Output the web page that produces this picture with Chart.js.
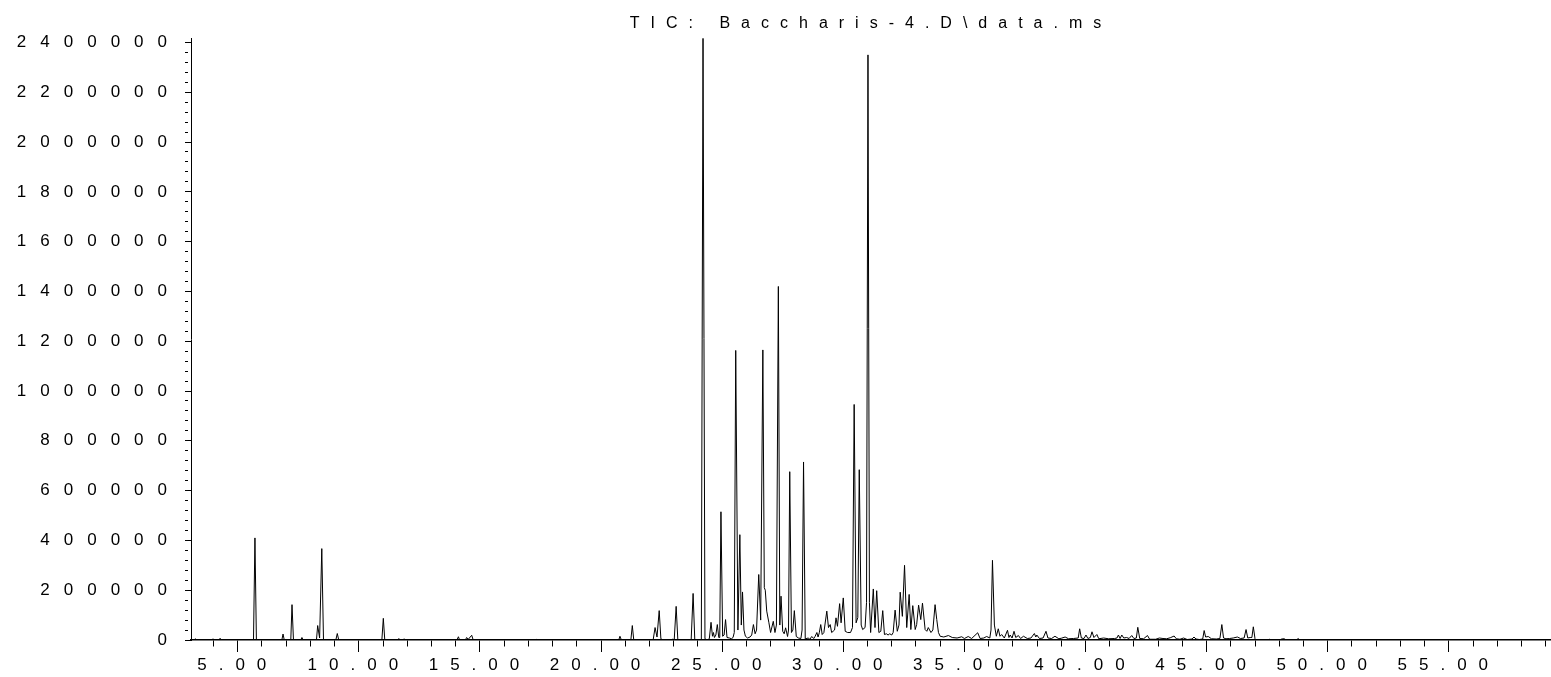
<!DOCTYPE html>
<html>
<head>
<meta charset="utf-8">
<script src="https://cdn.jsdelivr.net/npm/chart.js@4.4.1/dist/chart.umd.min.js"></script>
<style>
html,body{margin:0;padding:0;background:#fff;overflow:hidden}
canvas{display:block}
</style>
</head>
<body>
<canvas id="chart" width="1551" height="677"></canvas>
<script>
const chartTitle = 'TIC: Baccharis-4.D\\data.ms';

// Retention time (min) of the trace vertices
const retentionTime = [
  3.07,3.20,3.24,3.30,3.95,3.98,4.02,4.24,4.27,4.32,4.56,4.60,4.64,
  5.65,5.71,5.77,6.82,6.87,6.92,7.19,7.24,7.30,7.60,7.65,7.70,
  8.25,8.30,8.38,8.47,8.54,9.05,9.11,9.17,10.95,11.01,11.07,
  11.60,11.65,11.70,11.82,11.87,11.92,14.05,14.11,14.16,14.40,14.45,14.52,14.66,14.72,
  17.28,17.32,17.36,20.73,20.78,20.84,21.23,21.29,21.35,
  22.15,22.23,22.31,22.40,22.47,22.55,22.90,22.97,23.02,23.10,23.17,23.72,23.80,23.87,24.14,24.21,24.29,24.38,
  24.47,24.54,24.60,24.64,24.68,24.74,24.80,24.86,24.90,24.95,25.02,25.08,25.14,25.20,25.30,25.38,25.45,25.50,25.56,25.65,25.73,25.79,25.84,25.90,25.96,
  26.05,26.15,26.22,26.29,26.36,26.42,26.51,26.59,26.68,26.74,26.78,26.84,26.93,27.00,27.11,27.18,27.24,27.32,27.38,27.43,27.50,
  27.56,27.62,27.70,27.74,27.79,27.86,27.92,27.98,28.06,28.15,28.25,28.30,28.36,28.43,28.55,28.62,28.70,28.78,28.84,28.91,28.96,
  29.01,29.07,29.13,29.20,29.32,29.39,29.46,29.52,29.58,29.64,29.70,29.76,29.85,29.91,30.00,30.08,30.18,30.30,30.38,
  30.45,30.53,30.60,30.66,30.74,30.80,30.90,30.96,31.02,31.08,31.13,31.24,31.31,31.38,31.47,31.55,31.63,31.70,31.78,31.85,31.92,32.00,32.06,
  32.14,32.23,32.30,32.35,32.44,32.53,32.62,32.72,32.79,32.87,32.97,33.03,33.11,33.20,33.27,33.38,33.45,33.51,33.62,33.70,33.79,33.86,33.93,34.00,
  34.15,34.34,34.50,34.70,34.89,35.00,35.16,35.30,35.55,35.65,35.80,35.92,36.05,36.10,36.16,36.24,36.32,36.40,36.47,36.54,36.65,36.78,36.84,36.89,36.97,
  37.05,37.12,37.23,37.32,37.44,37.60,37.75,37.89,37.95,37.99,38.10,38.25,38.37,38.45,38.60,38.74,38.90,39.00,39.16,39.30,39.50,39.70,39.76,39.83,39.94,40.02,40.10,40.20,40.27,40.35,40.47,40.55,
  40.75,40.95,41.20,41.30,41.36,41.43,41.50,41.58,41.70,41.80,41.91,42.00,42.10,42.16,42.24,42.40,42.56,42.65,42.90,43.05,43.20,43.35,43.50,43.66,43.75,43.90,
  44.05,44.20,44.40,44.48,44.56,44.70,44.84,44.90,44.96,45.07,45.20,45.40,45.55,45.63,45.70,45.80,45.95,46.10,46.27,46.40,46.55,46.63,46.70,46.80,46.87,46.93,47.00,47.05,
  47.50,47.59,47.65,48.00,48.10,48.20,48.30,48.70,48.79,48.85,50.15,50.22,50.28,59.22
];

// Abundance (TIC counts) at each vertex
const abundance = [
  0,0,5000,0,0,5000,0,0,7000,0,0,4000,0,
  0,410000,0,0,24000,0,0,142000,0,0,10000,0,
  0,58000,8000,367000,0,0,26000,0,0,87000,0,
  0,6000,0,0,5000,0,0,13000,0,0,10000,3000,19000,0,
  0,3000,0,0,15000,0,0,58000,0,
  0,50000,12000,118000,5000,0,0,4000,0,135000,0,0,187000,0,0,2417000,5000,0,
  5000,71000,15000,30000,10000,20000,62000,10000,10000,515000,15000,20000,82000,10000,8000,5000,10000,30000,1163000,40000,423000,60000,193000,40000,15000,
  8000,12000,20000,62000,25000,40000,263000,80000,1165000,210000,200000,116000,69000,30000,75000,30000,60000,1420000,60000,176000,35000,
  25000,49000,14000,40000,676000,30000,40000,118000,14000,8000,6000,40000,715000,4000,8000,3000,14000,6000,15000,30000,12000,
  29000,62000,22000,30000,116000,50000,62000,30000,35000,40000,89000,55000,146000,69000,169000,35000,30000,30000,50000,
  946000,69000,90000,684000,60000,42000,50000,150000,2350000,150000,30000,205000,50000,198000,30000,35000,118000,22000,25000,20000,25000,20000,30000,
  120000,35000,60000,192000,95000,300000,50000,183000,42000,138000,42000,62000,140000,82000,148000,42000,35000,50000,30000,40000,142000,82000,30000,15000,
  12000,18000,10000,8000,13000,6000,14000,6000,29000,6000,8000,14000,8000,40000,320000,60000,15000,45000,15000,22000,8000,39000,10000,20000,8000,
  35000,10000,18000,6000,15000,6000,8000,26000,12000,20000,6000,8000,35000,8000,6000,15000,5000,7000,12000,5000,6000,8000,45000,8000,6000,20000,6000,10000,33000,10000,22000,5000,
  8000,5000,6000,8000,20000,6000,20000,8000,10000,6000,18000,6000,8000,51000,6000,5000,18000,3000,3000,8000,6000,5000,9000,16000,5000,3000,
  8000,2000,4000,12000,4000,2000,4000,38000,12000,14000,5000,4000,6000,62000,8000,5000,6000,8000,12000,6000,8000,42000,8000,10000,10000,53000,5000,0,
  0,3000,0,0,4000,5000,0,0,6000,0,0,2000,0,0
];

// Axis ranges and tick steps
const xRange = [3.07, 59.22];
const yRange = [0, 2417000];
const xTickStep = 1;       // minor tick every minute
const xLabelStep = 5;      // labelled tick every 5 minutes
const yTickStep = 40000;   // minor tick
const yLabelStep = 200000; // labelled tick

const FONT = "'Liberation Sans', Arial, sans-serif";
const LETTER_SPACING = { x: '12px', y: '14px', title: '11px' };

const isMultiple = (v, step) => Math.abs(v / step - Math.round(v / step)) < 1e-6;

// Tick values every `step` inside [min, max]
function stepTicks(min, max, step) {
  const out = [];
  for (let k = Math.ceil(min / step - 1e-9); k * step <= max + 1e-9; k++) out.push({ value: +(k * step).toFixed(6) });
  return out;
}

class SpacedLinearScale extends Chart.LinearScale {
  drawLabels(area) {
    const ctx = this.ctx;
    ctx.save();
    if ('letterSpacing' in ctx) ctx.letterSpacing = LETTER_SPACING[this.id] || '0px';
    super.drawLabels(area);
    ctx.restore();
  }
}
SpacedLinearScale.id = 'spacedLinear';
Chart.register(SpacedLinearScale);

const titleSpacing = {
  id: 'titleSpacing',
  beforeDraw(chart) {
    if ('letterSpacing' in chart.ctx) chart.ctx.letterSpacing = LETTER_SPACING.title;
  }
};

const points = retentionTime.map((t, i) => ({ x: t, y: abundance[i] }));

new Chart(document.getElementById('chart'), {
  type: 'line',
  data: {
    datasets: [{
      data: points,
      borderColor: '#000',
      borderWidth: 1,
      pointRadius: 0,
      tension: 0,
      fill: false
    }]
  },
  plugins: [titleSpacing],
  options: {
    responsive: false,
    animation: false,
    devicePixelRatio: 1,
    layout: { padding: { left: 0, right: 0, top: 0, bottom: 0 } },
    plugins: {
      legend: { display: false },
      tooltip: { enabled: false },
      title: {
        display: true,
        fullSize: false,
        text: chartTitle,
        color: '#000',
        font: { family: FONT, size: 16, weight: 'normal' },
        padding: { top: 14, bottom: 5 }
      }
    },
    scales: {
      x: {
        type: 'spacedLinear',
        min: xRange[0],
        max: xRange[1],
        afterBuildTicks: s => { s.ticks = stepTicks(xRange[0], xRange[1], xTickStep); },
        afterFit: s => { s.height = 37; },
        border: { display: true, color: '#000', width: 1.5 },
        grid: {
          drawOnChartArea: false,
          drawTicks: true,
          tickLength: 12,
          tickColor: '#000',
          tickWidth: 1,
          tickBorderDash: c => (c.tick && isMultiple(c.tick.value, xLabelStep)) ? [] : [6, 100]
        },
        ticks: {
          autoSkip: false,
          maxRotation: 0,
          minRotation: 0,
          padding: 3,
          color: '#000',
          font: { family: FONT, size: 17 },
          callback: v => isMultiple(v, xLabelStep) ? Number(v).toFixed(2) : ''
        }
      },
      y: {
        type: 'spacedLinear',
        min: yRange[0],
        max: yRange[1],
        afterBuildTicks: s => { s.ticks = stepTicks(yRange[0], yRange[1], yTickStep); },
        afterFit: s => { s.width = 191; },
        border: { display: true, color: '#000', width: 1 },
        grid: {
          drawOnChartArea: false,
          drawTicks: true,
          tickLength: 6,
          tickColor: '#000',
          tickWidth: 1,
          tickBorderDash: c => (c.tick && isMultiple(c.tick.value, yLabelStep)) ? [] : [3, 100]
        },
        ticks: {
          autoSkip: false,
          padding: 4,
          color: '#000',
          font: { family: FONT, size: 17 },
          callback: v => isMultiple(v, yLabelStep) ? String(v) : ''
        }
      }
    }
  }
});
</script>
</body>
</html>
